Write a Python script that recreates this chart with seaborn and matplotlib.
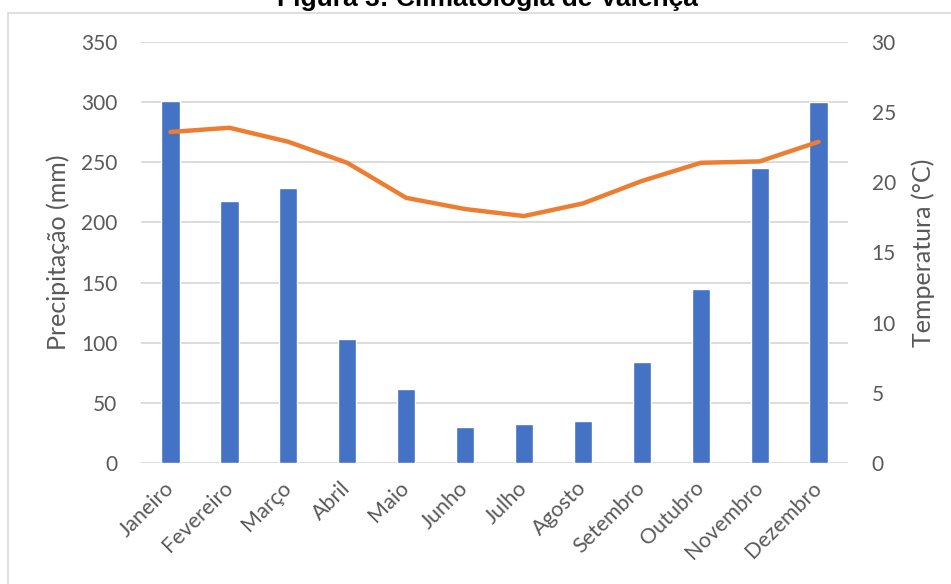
import matplotlib
matplotlib.use('Agg')
import matplotlib.pyplot as plt
import seaborn as sns
from matplotlib.patches import Rectangle

# Dados climatológicos de Valença
meses = ["Janeiro", "Fevereiro", "Março", "Abril", "Maio", "Junho",
         "Julho", "Agosto", "Setembro", "Outubro", "Novembro", "Dezembro"]
precipitacao = [301, 218, 229, 103, 61, 30, 32, 35, 84, 145, 245, 300]
temperatura = [23.6, 23.9, 22.9, 21.4, 18.9, 18.1, 17.6, 18.5, 20.1, 21.4, 21.5, 22.9]
ticks_prec = [0, 50, 100, 150, 200, 250, 300, 350]
ticks_temp = [0, 5, 10, 15, 20, 25, 30]

azul = "#4472C4"
laranja = "#ED7D31"
cinza_txt = "#595959"
cinza_grade = "#D9D9D9"

sns.set_style("white")
plt.rcParams['font.family'] = ['Lato', 'DejaVu Sans']

fig = plt.figure(figsize=(9.51, 5.84), dpi=100)
ax = fig.add_axes([0.1483, 0.2077, 0.7434, 0.7199])

sns.barplot(x=meses, y=precipitacao, color=azul, width=0.31,
            saturation=1, ax=ax, zorder=3)
ax.set_xlim(-0.5, len(meses) - 0.5)
ax.set_ylim(0, 350)
ax.set_yticks(ticks_prec)
ax.grid(axis='y', color=cinza_grade, linewidth=1.3, zorder=0)
ax.set_axisbelow(True)
for s in ax.spines.values():
    s.set_visible(False)
ax.tick_params(axis='y', length=0, pad=17, labelsize=15, labelcolor=cinza_txt)
ax.tick_params(axis='x', length=0, pad=16, labelsize=15.5, labelcolor=cinza_txt)
plt.setp(ax.get_xticklabels(), rotation=45, ha='right', va='center',
         rotation_mode='anchor')
ax.set_xlabel("")
ax.set_ylabel("Precipitação (mm)", fontsize=18, color=cinza_txt, labelpad=8)

ax2 = ax.twinx()
sns.lineplot(x=range(len(meses)), y=temperatura, color=laranja, linewidth=3.2,
             ax=ax2, zorder=4)
ax2.set_ylim(0, 30)
ax2.set_yticks(ticks_temp)
for s in ax2.spines.values():
    s.set_visible(False)
ax2.tick_params(axis='y', length=0, pad=17, labelsize=15, labelcolor=cinza_txt)
ax2.set_ylabel("Temperatura (°C)", fontsize=18, color=cinza_txt, labelpad=11)
ax2.grid(False)

# moldura do gráfico (parcialmente cortada)
fig.patches.append(Rectangle((8 / 951, -0.1), 1.2, 1 - 13 / 584 + 0.1,
                             transform=fig.transFigure, fill=False,
                             edgecolor=cinza_grade, linewidth=1.2))

fig.text(487 / 951, 1 - 6 / 584, "Figura 3: Climatologia de Valença",
         ha='center', va='baseline', fontsize=19, fontweight='bold',
         family=['Liberation Sans', 'DejaVu Sans'], color='black')

fig.savefig("out.png", dpi=100)
